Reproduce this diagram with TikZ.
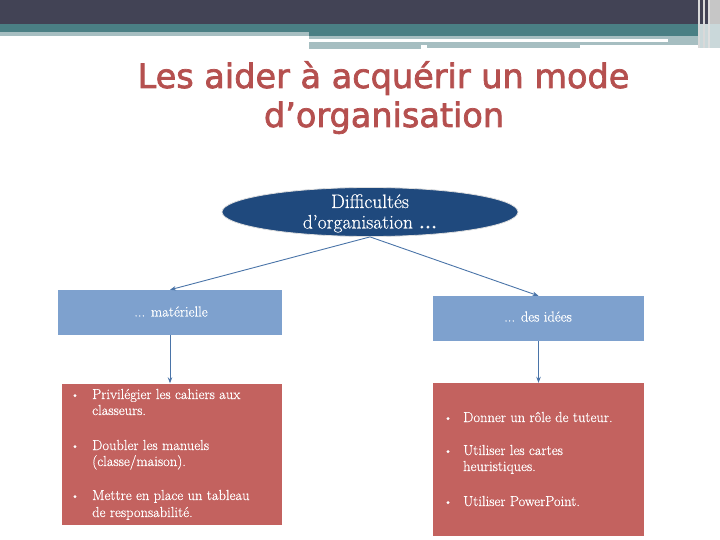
\documentclass[tikz,border=0pt]{standalone}
\usepackage{fontspec}
\newfontfamily\titlefont{DejaVu Sans}[FakeBold=2.2]
\newfontfamily\bodyfont{Latin Modern Roman}[FakeBold=0.5]
\usetikzlibrary{arrows.meta,shapes.geometric}
\definecolor{darkbar}{HTML}{424355}
\definecolor{tealbar}{HTML}{4A7F84}
\definecolor{lightteal}{HTML}{A6BEC1}
\definecolor{titlered}{HTML}{B5504F}
\definecolor{ellblue}{HTML}{1F497D}
\definecolor{boxblue}{HTML}{7EA1CE}
\definecolor{boxred}{HTML}{C3625F}
\definecolor{arrblue}{HTML}{4A74A8}
\tikzset{
  titletext/.style={text=titlered, font=\titlefont\fontsize{33.5bp}{40bp}\selectfont, inner sep=0pt, anchor=base},
  elltext/.style={text=white, font=\bodyfont\fontsize{19.5bp}{21bp}\selectfont, inner sep=0pt, anchor=base},
  bluebox/.style={fill=boxblue, draw=none, inner sep=0pt},
  boxtext/.style={text=white, font=\bodyfont\fontsize{14.5bp}{16bp}\selectfont, inner sep=0pt, anchor=base},
  redbox/.style={fill=boxred, draw=none, inner sep=0pt},
  itemtext/.style={text=white, font=\bodyfont\fontsize{14.5bp}{16bp}\selectfont, anchor=base west, inner sep=0pt},
  bullettext/.style={text=white, font=\bodyfont\fontsize{10bp}{16bp}\selectfont, anchor=base, inner sep=0pt},
  conn/.style={draw=arrblue, line width=0.9bp, -{Stealth[length=6bp,width=4.5bp]}}
}
\begin{document}
\begin{tikzpicture}[x=1bp,y=-1bp]
\useasboundingbox (0,0) rectangle (720,540);
% header bands
\fill[darkbar] (0,0) rectangle (720,24);
\fill[tealbar] (0,24) rectangle (698,32);
\fill[lightteal] (0,32) rectangle (309,36);
\fill[tealbar] (309,32) rectangle (698,36);
\fill[lightteal] (309,36) rectangle (707,39);
\fill[lightteal] (668,39) rectangle (707,42);
\fill[lightteal] (309,42) rectangle (707,45);
\fill[lightteal] (309,45) rectangle (421,49);
\fill[lightteal] (427,45) rectangle (580,48);
\fill[lightteal!60!white] (698,24) rectangle (720,48);
\fill[gray!45] (710,0) rectangle (720,24);
\fill[gray!30] (698,0) rectangle (700,48);
\fill[gray!30] (703,0) rectangle (705,48);
\fill[gray!25] (708,0) rectangle (710,48);
% title
\node[titletext] (t1) at (383.5,88) {Les aider à acquérir un mode};
\node[titletext] (t2) at (384,127) {d’organisation};
% ellipse
\node[ellipse, fill=ellblue, draw=gray!25, line width=0.8bp, minimum width=296bp, minimum height=49bp, inner sep=0pt] (ell) at (370,212) {};
\node[elltext] (e1) at (370,208) {Difficultés};
\node[elltext] (e2) at (370,228.5) {d’organisation \textbf{...}};
% blue boxes
\node[bluebox, minimum width=224bp, minimum height=45bp] (mat) at (170,312.5) {};
\node[boxtext] (matt) at (171,316.5) {... matérielle};
\node[bluebox, minimum width=211bp, minimum height=45bp] (ide) at (538.5,318.5) {};
\node[boxtext] (idet) at (538,321.5) {... des idées};
% red boxes
\node[redbox, minimum width=220bp, minimum height=141bp] (lred) at (172,454) {};
\node[redbox, minimum width=211bp, minimum height=153bp] (rred) at (538.5,459.5) {};
% connectors
\draw[conn] (ell.south) -- (mat.north);
\draw[conn] (ell.south) -- (ide.north);
\draw[conn] (mat.south) -- (mat.south |- lred.north);
\draw[conn] (ide.south) -- (ide.south |- rred.north);
% left items
\node[bullettext] (lb1) at (75,398) {•};
\node[itemtext] (li1a) at (92,399) {Privilégier les cahiers aux};
\node[itemtext] (li1b) at (92,415) {classeurs.};
\node[bullettext] (lb2) at (75,449) {•};
\node[itemtext] (li2a) at (92,450) {Doubler les manuels};
\node[itemtext] (li2b) at (92,466) {(classe/maison).};
\node[bullettext] (lb3) at (75,499) {•};
\node[itemtext] (li3a) at (92,500) {Mettre en place un tableau};
\node[itemtext] (li3b) at (92,517) {de responsabilité.};
% right items
\node[bullettext] (rb1) at (448,421) {•};
\node[itemtext] (ri1) at (463,422) {Donner un rôle de tuteur.};
\node[bullettext] (rb2) at (448,454) {•};
\node[itemtext] (ri2a) at (463,455) {Utiliser les cartes};
\node[itemtext] (ri2b) at (463,471) {heuristiques.};
\node[bullettext] (rb3) at (448,505) {•};
\node[itemtext] (ri3) at (463,506) {Utiliser PowerPoint.};
\end{tikzpicture}
\end{document}
